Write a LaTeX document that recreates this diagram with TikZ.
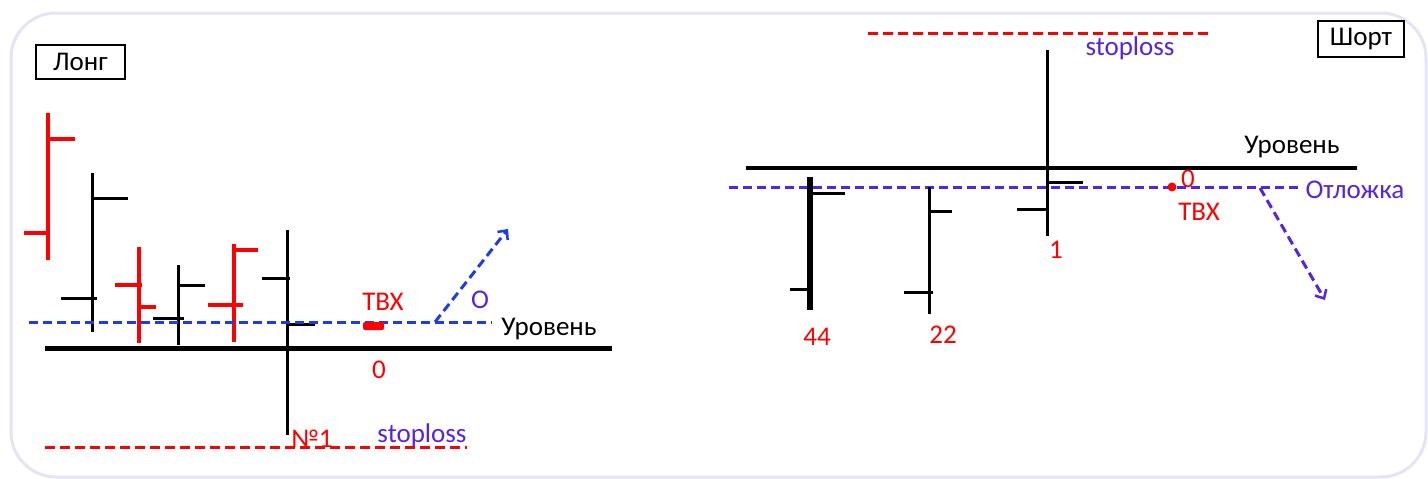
\documentclass[tikz,border=0pt]{standalone}
\usepackage{fontspec}
\setmainfont{Carlito}
\usetikzlibrary{arrows.meta}
\definecolor{myred}{RGB}{255,0,0}
\definecolor{myblue}{RGB}{30,60,230}
\definecolor{myviolet}{RGB}{85,35,230}
\definecolor{framecol}{RGB}{228,228,244}
\begin{document}
\begin{tikzpicture}[x=1pt,y=-1pt,
  lbl/.style={font=\fontsize{27}{32}\selectfont, inner sep=0pt, anchor=base},
  boxlbl/.style={draw=black, line width=2.5pt, font=\fontsize{27}{32}\selectfont, inner sep=0pt, minimum width=89pt, minimum height=34pt},
  bcandle/.style={line width=3pt, black},
  thickcandle/.style={line width=6pt, black},
  rcandle/.style={line width=4pt, myred},
  level/.style={line width=5pt, black},
  bluedash/.style={line width=3pt, myblue, dash pattern=on 9pt off 5pt},
  violetdash/.style={line width=3pt, myviolet, dash pattern=on 9pt off 5pt},
  reddash/.style={line width=3pt, myred, dash pattern=on 10pt off 5pt},
  bluearrow/.style={bluedash, -{Straight Barb[length=7pt,width=13pt,line width=2.5pt]}},
  violetarrow/.style={violetdash, -{Straight Barb[length=7pt,width=13pt,line width=2.5pt]}}
]
\useasboundingbox (0,0) rectangle (1428,479);
% frame
\draw[framecol, line width=3pt, rounded corners=45pt] (11,13) rectangle (1426,477);

% ================= LEFT: Long =================
\node[boxlbl] (long) at (80.5,62) {Лонг};

% red candle 1
\draw[rcandle] (48,113) -- (48,260);
\draw[rcandle] (48,139) -- (75,139);
\draw[rcandle] (24,233) -- (50,233);
% black candle 2
\draw[bcandle] (92,173) -- (92,332);
\draw[bcandle] (92,198) -- (128,198);
\draw[bcandle] (61,298) -- (97,298);
% red candle 3
\draw[rcandle] (139,247) -- (139,343);
\draw[rcandle] (115,285) -- (142,285);
\draw[rcandle] (139,307) -- (156,307);
% black candle 4
\draw[bcandle] (178,265) -- (178,345);
\draw[bcandle] (178,285) -- (205,285);
\draw[bcandle] (153,318) -- (184,318);
% red candle 5
\draw[rcandle] (234,244) -- (234,342);
\draw[rcandle] (234,250) -- (258,250);
\draw[rcandle] (208,305) -- (243,305);
% black candle 6
\draw[bcandle] (287,230) -- (287,435);
\draw[bcandle] (262,278) -- (290,278);
\draw[bcandle] (287,324) -- (315,324);

% level line
\draw[level] (45,348) -- (612,348);
% blue dashed line
\draw[bluedash] (29,322) -- (492,322);
% arrow
\coordinate (la0) at (435,322);
\coordinate (la1) at (508,229);
\draw[bluearrow] (la0) -- (la1);
% red entry blob
\fill[myred, rounded corners=2pt] (363,322) rectangle (384,330);

\node[lbl, myred] (tvxl) at (383,310) {ТВХ};
\node[lbl, myviolet] (ol) at (480,308) {O};
\node[lbl, black] (levl) at (549,335) {Уровень};
\node[lbl, myred] (zerol) at (379,378) {0};

% stoploss
\draw[reddash] (45,447) -- (467,447);
\node[lbl, myred] (no1) at (312,447) {№1};
\node[lbl, myviolet] (stopl) at (422,442) {stoploss};

% ================= RIGHT: Short =================
\node[boxlbl, minimum width=86pt, minimum height=36pt] (short) at (1361,39) {Шорт};

\draw[reddash] (868,33) -- (1208,33);
\node[lbl, myviolet] (stopr) at (1130,55) {stoploss};

% black candle top
\draw[bcandle] (1047,50) -- (1047,236);
\draw[bcandle] (1047,182) -- (1083,182);
\draw[bcandle] (1017,209) -- (1048,209);

% level
\draw[line width=4.5pt, black] (746,168) -- (1357,168);
\node[lbl, black] (levr) at (1292,153) {Уровень};

% violet dashed
\draw[violetdash] (729,187) -- (1300,187);
\node[lbl, myviolet] (otl) at (1355,198) {Отложка};

% entry dot
\fill[myred] (1172,187) circle (4.5pt);
\node[lbl, myred] (zeror) at (1188,187) {0};
\node[lbl, myred] (tvxr) at (1199,220) {ТВХ};

% arrow
\coordinate (ra0) at (1260,188);
\coordinate (ra1) at (1325,300);
\draw[violetarrow] (ra0) -- (ra1);

\node[lbl, myred] (one) at (1056,258) {1};

% thick candle 44
\draw[thickcandle] (810,177) -- (810,310);
\draw[bcandle] (810,193) -- (845,193);
\draw[bcandle] (790,289) -- (810,289);
\node[lbl, myred] (n44) at (817,345) {44};

% candle 22
\draw[bcandle] (929,187) -- (929,314);
\draw[bcandle] (929,211) -- (952,211);
\draw[bcandle] (904,292) -- (933,292);
\node[lbl, myred] (n22) at (943,343) {22};
\end{tikzpicture}
\end{document}
